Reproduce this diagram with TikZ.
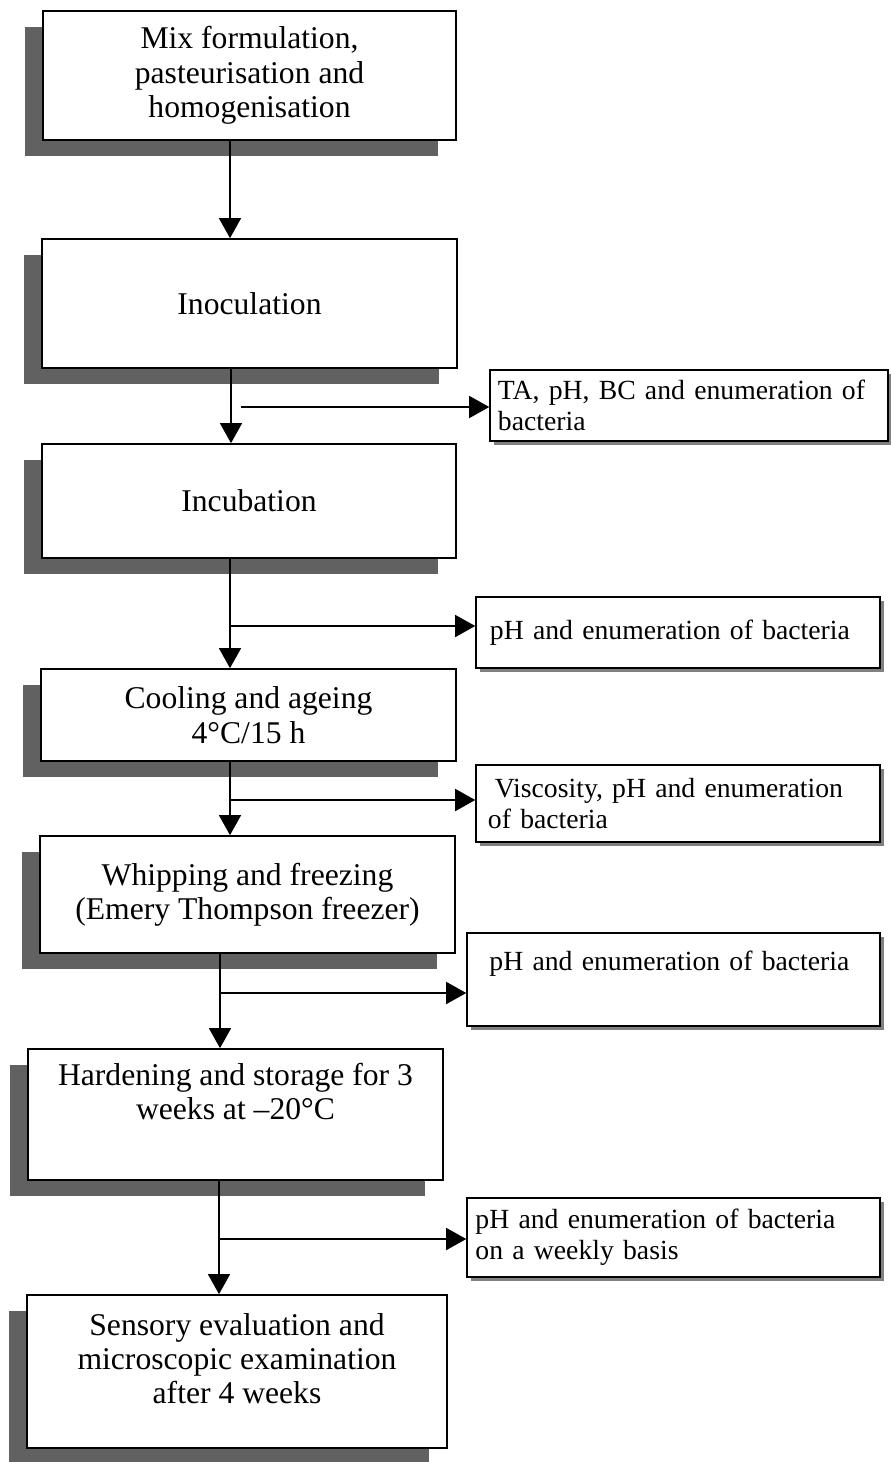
\documentclass[tikz,border=0pt]{standalone}
\usepackage{fontspec}
\setmainfont{Liberation Serif}
\usetikzlibrary{arrows.meta,shadows}
\hyphenpenalty=10000

\tikzset{
  stage/.style={draw, line width=1.2pt, fill=white, align=center,
    font=\fontsize{22.5}{24.5}\selectfont,
    general shadow={fill=black!62, shadow xshift=-0.45cm, shadow yshift=-0.4cm}},
  test/.style={draw, line width=1pt, fill=white, align=left,
    font=\fontsize{19.7}{22}\selectfont,
    general shadow={fill=black!50, shadow xshift=0.1cm, shadow yshift=-0.1cm}},
  flow/.style={line width=1pt, -{Triangle[length=0.5cm,width=0.55cm]}},
}

\begin{document}
\begin{tikzpicture}[x=0.025cm, y=-0.025cm]
  \useasboundingbox (0,0) rectangle (890,1462);

  % process steps
  \node[stage, minimum width=10.325cm, minimum height=3.225cm] (mix) at (249.5,75.5)
    {Mix formulation,\\ pasteurisation and\\ homogenisation};
  \node[stage, minimum width=10.375cm, minimum height=3.225cm] (inoc) at (249.5,303.5) {Inoculation};
  \node[stage, minimum width=10.35cm, minimum height=2.85cm] (incub) at (249,501) {Incubation};
  \node[stage, minimum width=10.375cm, minimum height=2.3cm] (cool) at (248.5,715)
    {Cooling and ageing\\ 4°C/15 h};
  \node[stage, minimum width=10.375cm, minimum height=2.925cm] (whip) at (247.5,894.5)
    {Whipping and freezing\\ (Emery Thompson freezer)};
  \node[stage, minimum width=10.375cm, minimum height=3.275cm, text depth=1.15cm] (hard) at (235.5,1114.5)
    {Hardening and storage for 3\\ weeks at –20°C};
  \node[stage, minimum width=10.5cm, minimum height=3.825cm, text depth=0.65cm] (sens) at (237,1371.5)
    {Sensory evaluation and\\ microscopic examination\\ after 4 weeks};

  % analyses
  \node[test, minimum width=9.95cm, minimum height=1.775cm, inner xsep=0.2cm, text width=9.55cm] (ta) at (689,405.5)
    {TA, pH, BC and enumeration of\\ bacteria};
  \node[test, minimum width=10.1cm, minimum height=1.775cm, inner xsep=0.35cm, text width=9.4cm] (ph1) at (678,632.5)
    {pH and enumeration of bacteria};
  \node[test, minimum width=10.1cm, minimum height=1.925cm, inner xsep=0.3cm, text width=9.5cm] (visc) at (678,803.5)
    {\hspace*{.25em}Viscosity, pH and enumeration\\ of bacteria};
  \node[test, minimum width=10.325cm, minimum height=2.325cm, inner xsep=0.55cm, text width=9.2cm, text depth=0.93cm] (ph2) at (673.5,979.5)
    {pH and enumeration of bacteria};
  \node[test, minimum width=10.325cm, minimum height=1.975cm, inner xsep=0.2cm, text width=9.9cm] (ph3) at (673.5,1237.5)
    {pH and enumeration of bacteria\\ on a weekly basis};

  % spine and branch points
  \coordinate (a1) at (230,0);
  \coordinate (a2) at (231,0);
  \coordinate (a5) at (220,0);
  \coordinate (a6) at (219,0);
  \coordinate (t1) at (241,407);
  \coordinate (t2) at (230,626);
  \coordinate (t3) at (230,800);
  \coordinate (t4) at (220,993);
  \coordinate (t5) at (219,1239);

  \draw[flow] (mix.south -| a1) -- (inoc.north -| a1);
  \draw[flow] (inoc.south -| a2) -- (incub.north -| a2);
  \draw[flow] (t1) -- (ta.west |- t1);
  \draw[flow] (incub.south -| t2) -- (cool.north -| t2);
  \draw[flow] (t2) -- (ph1.west |- t2);
  \draw[flow] (cool.south -| t3) -- (whip.north -| t3);
  \draw[flow] (t3) -- (visc.west |- t3);
  \draw[flow] (whip.south -| a5) -- (hard.north -| a5);
  \draw[flow] (t4) -- (ph2.west |- t4);
  \draw[flow] (hard.south -| a6) -- (sens.north -| a6);
  \draw[flow] (t5) -- (ph3.west |- t5);
\end{tikzpicture}
\end{document}
